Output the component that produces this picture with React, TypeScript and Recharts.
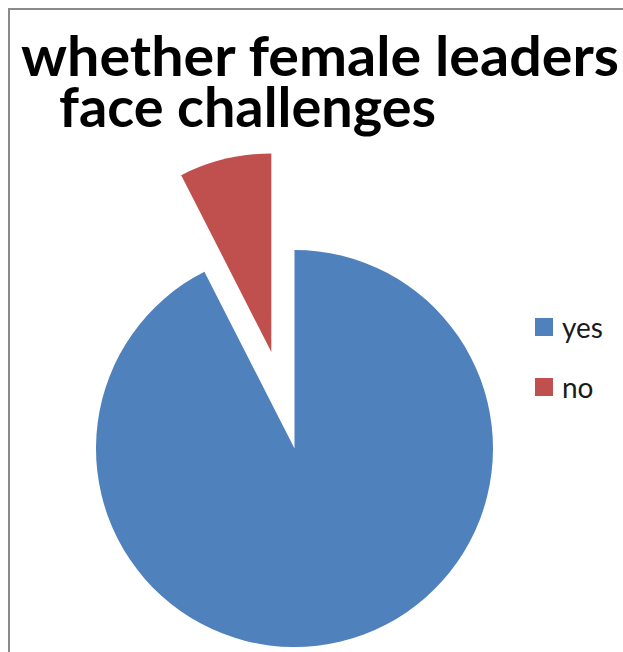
import React from "react";
import { PieChart, Pie, Cell, Legend } from "recharts";

const categories = ["yes", "no"];
const counts = [37, 3];
const colors = ["#4F81BD", "#C0504D"];
const titleLines = ["whether female leaders", "face challenges"];

const W = 613;
const H = 642;
const CX = 284.5;
const CY = 438.5;
const R = 198.5;
const EXPLODE = 0.5; // fraction of the radius the "no" slice is pulled out

const data = categories.map((name, i) => ({ name, value: counts[i] }));

// mid angle of the exploded slice, same direction the pie is drawn (clockwise from 12 o'clock)
const total = counts.reduce((a, b) => a + b, 0);
const before = counts.slice(0, 1).reduce((a, b) => a + b, 0);
const midDeg = 90 - ((before + counts[1] / 2) / total) * 360;
const off = R * EXPLODE;
const ex = CX + off * Math.cos((midDeg * Math.PI) / 180);
const ey = CY - off * Math.sin((midDeg * Math.PI) / 180);

function LegendBox() {
  return (
    <div style={{ fontFamily: "Lato, sans-serif" }}>
      {categories.map((c, i) => (
        <div key={c} style={{ height: 60.5, display: "flex", alignItems: "center" }}>
          <span style={{ display: "inline-block", width: 18, height: 18, background: colors[i], marginRight: 9 }} />
          <span style={{ fontSize: 28, color: "#1a1a1a" }}>{c}</span>
        </div>
      ))}
    </div>
  );
}

export default function App() {
  return (
    <div
      style={{
        position: "absolute",
        left: 8,
        top: 8,
        width: 615,
        height: 644,
        overflow: "hidden",
        borderLeft: "2px solid #8a8a8a",
        borderTop: "2px solid #8a8a8a",
        background: "#fff",
      }}
    >
      <PieChart width={W} height={H} margin={{ top: 0, right: 0, bottom: 0, left: 0 }}>
        <text x={11} y={66} fontFamily="Lato, sans-serif" fontWeight="bold" fontSize={55} fill="#000" textLength={598} lengthAdjust="spacingAndGlyphs">
          {titleLines[0]}
        </text>
        <text x={49} y={117} fontFamily="Lato, sans-serif" fontWeight="bold" fontSize={55} fill="#000" textLength={377} lengthAdjust="spacingAndGlyphs">
          {titleLines[1]}
        </text>
        <Pie
          data={data}
          dataKey="value"
          nameKey="name"
          cx={CX}
          cy={CY}
          outerRadius={R}
          startAngle={90}
          endAngle={-270}
          stroke="none"
          label={false}
          labelLine={false}
          isAnimationActive={false}
        >
          {data.map((d, i) => (
            <Cell key={d.name} fill={i === 0 ? colors[0] : "transparent"} />
          ))}
        </Pie>
        <Pie
          data={data}
          dataKey="value"
          nameKey="name"
          cx={ex}
          cy={ey}
          outerRadius={R}
          startAngle={90}
          endAngle={-270}
          stroke="none"
          label={false}
          labelLine={false}
          isAnimationActive={false}
        >
          {data.map((d, i) => (
            <Cell key={d.name} fill={i === 1 ? colors[1] : "transparent"} />
          ))}
        </Pie>
        <Legend
          layout="vertical"
          align="right"
          verticalAlign="middle"
          content={() => <LegendBox />}
          wrapperStyle={{ left: 525, top: 286.5, width: 85, right: "auto", bottom: "auto" }}
        />
      </PieChart>
    </div>
  );
}
